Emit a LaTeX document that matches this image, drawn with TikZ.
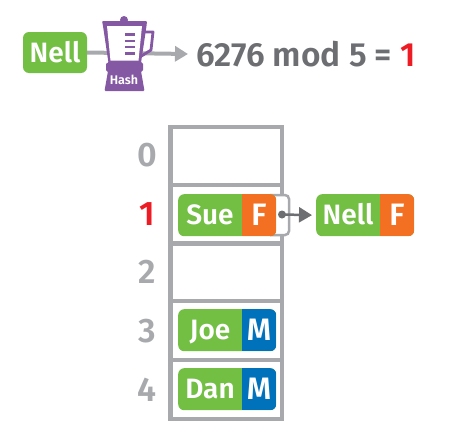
\documentclass[tikz,border=0pt]{standalone}
\usepackage{fontspec}
\setmainfont{Fira Sans}[UprightFont=* Medium,BoldFont=* SemiBold]
\usetikzlibrary{arrows.meta}
\definecolor{pgreen}{HTML}{72BF44}
\definecolor{porange}{HTML}{F36F21}
\definecolor{pblue}{HTML}{0072BC}
\definecolor{lgray}{HTML}{A7A9AC}
\definecolor{dgray}{HTML}{6D6E71}
\definecolor{pred}{HTML}{ED1C24}
\definecolor{ppurple}{HTML}{8558A3}
\tikzset{
  x=1pt,y=-1pt,
  pilltext/.style={text=white,font=\bfseries\fontsize{28}{28}\selectfont,inner sep=0pt,anchor=base},
  tagtext/.style={text=white,font=\bfseries\fontsize{31}{31}\selectfont,inner sep=0pt,anchor=base},
  slotnum/.style={text=lgray,font=\bfseries\fontsize{34}{34}\selectfont,inner sep=0pt,anchor=center},
  tableline/.style={draw=lgray,line width=4.4pt},
  conn/.style={draw=lgray,line width=4pt},
  headtip/.style={-{Triangle[length=13pt,width=15pt]}},
}
% name, left x, top y, name text, letter, colour
\newcommand{\recpill}[6]{%
  \node[draw=none,fill=pgreen,rounded corners=6pt,minimum width=98pt,minimum height=42pt,inner sep=0pt,anchor=north west,
    path picture={\fill[#6,sharp corners] ([xshift=-34pt]path picture bounding box.north east) rectangle (path picture bounding box.south east);}] (#1) at (#2,#3) {};
  \node[pilltext] (#1name) at (#2+32,#3+30.5) {#4};
  \node[tagtext] (#1tag) at (#2+81,#3+31.5) {#5};
}
\begin{document}
\begin{tikzpicture}
\useasboundingbox (0,0) rectangle (463,434);
% table
\draw[tableline] (170.5,127) rectangle (282,419);
\foreach \y/\n in {185/a,243.5/b,301/c,360/d}{\draw[tableline] (170.5,\y) -- (282,\y);}
% indices
\node[slotnum] (i0) at (147,155) {0};
\node[slotnum,text=pred] (i1) at (147,214) {1};
\node[slotnum] (i2) at (147,272) {2};
\node[slotnum] (i3) at (147,331) {3};
\node[slotnum] (i4) at (147,390) {4};
% pointer box
\draw[lgray,fill=white,line width=2.5pt,rounded corners=4pt] (270,195) -- (289,195) -- (289,235) -- (270,235);
% records
\recpill{sue}{178}{194}{Sue}{F}{porange}
\recpill{joe}{178}{309}{Joe}{M}{pblue}
\recpill{dan}{178}{368}{Dan}{M}{pblue}
\recpill{nell}{316}{194}{Nell}{F}{porange}
% pointer
\coordinate (ptr) at (282,214.5);
\fill[dgray] (ptr) circle (4pt);
\draw[dgray,line width=2.5pt,headtip,shorten >=4pt] (ptr) -- (nell.west);
% top row
\node[draw=none,fill=pgreen,rounded corners=6pt,minimum width=64pt,minimum height=41pt,inner sep=0pt] (nelltop) at (55,52.5) {};
\node[pilltext] (nelltoptext) at (55,62.5) {Nell};
\node[anchor=base west,inner sep=0pt,text=dgray,font=\bfseries\fontsize{33.5}{33.5}\selectfont] (eq) at (196,66) {6276 mod 5 = \textcolor{pred}{1}};
\coordinate (tip) at (188,54);
\draw[conn,headtip] (nelltop.east) -- (tip);
% blender
\coordinate (hash) at (124,80);
\fill[ppurple] (124,20) circle (4pt);
\fill[ppurple,rounded corners=1pt] (102,21) -- (147,21) -- (146.5,26) -- (141,63) -- (143,63) -- (143,71) -- (141,71) -- (144.5,91) -- (104.5,91) -- (108,71) -- (106,71) -- (106,63) -- (108.5,63) -- (103,26) -- cycle;
\fill[white] (107,26) -- (142,26) -- (138.5,60.5) -- (110.5,60.5) -- cycle;
\draw[ppurple,line width=2.8pt,line join=round] (144,32) -- (153,32) -- (151,50) -- (141.5,56);
\foreach \y in {34.5,41,47,53.5}{\fill[ppurple] (125,\y-1.3) rectangle (135,\y+1.3);}
\node[text=white,font=\bfseries\fontsize{12.5}{12.5}\selectfont,inner sep=0pt] (hashtext) at (hash) {Hash};
\end{tikzpicture}
\end{document}
